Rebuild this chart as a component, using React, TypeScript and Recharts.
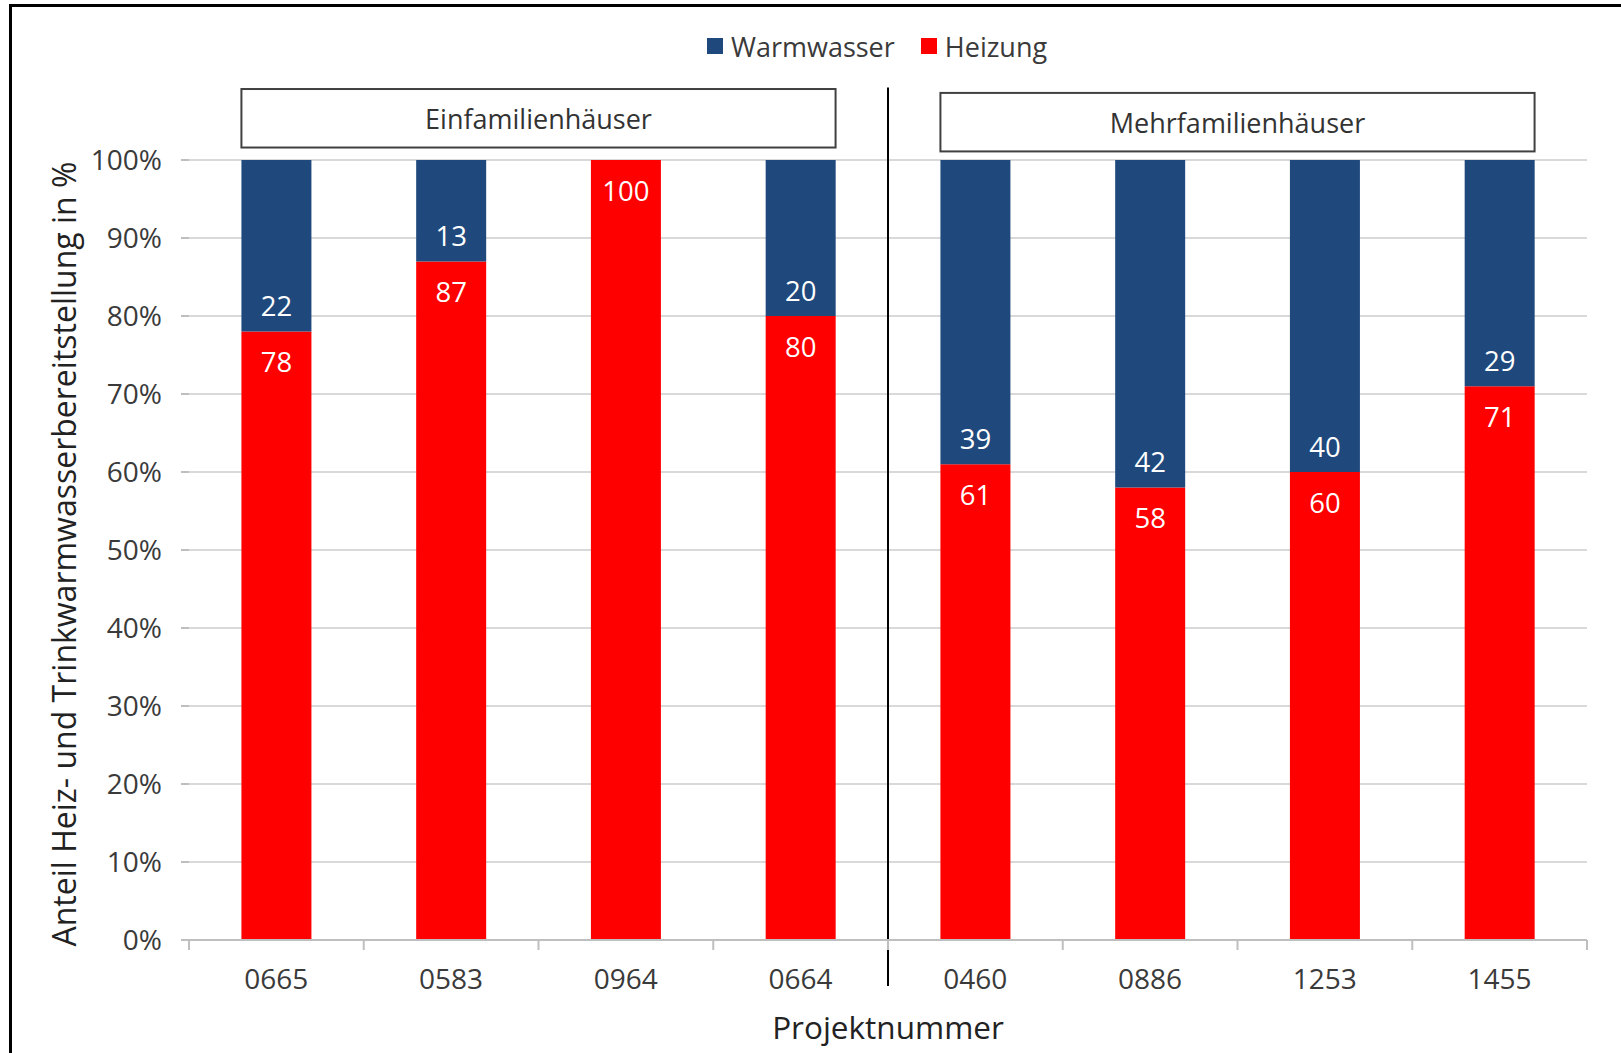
import React from 'react';
import {
  BarChart,
  Bar,
  XAxis,
  YAxis,
  CartesianGrid,
  ReferenceLine,
  ReferenceArea,
  LabelList,
} from 'recharts';

// Project numbers (x categories)
const projects = ['0665', '0583', '0964', '0664', '0460', '0886', '1253', '1455'];
// Share of heating in %
const heizung = [78, 87, 100, 80, 61, 58, 60, 71];
// Share of domestic hot water in %
const warmwasser = [22, 13, 0, 20, 39, 42, 40, 29];
// Y-axis ticks in %
const yTicks = [0, 10, 20, 30, 40, 50, 60, 70, 80, 90, 100];
// Building type groups: first and last project of each
const groupNames = ['Einfamilienhäuser', 'Mehrfamilienhäuser'];
const groupFirst = ['0665', '0460'];
const groupLast = ['0664', '1455'];
// Series names as shown in the legend (top segment first)
const seriesNames = ['Warmwasser', 'Heizung'];

const rows = projects.map((project, i) => ({
  project,
  heizung: heizung[i],
  warmwasser: warmwasser[i],
}));

const FONT = '"Open Sans", "DejaVu Sans", sans-serif';
const BLUE = '#1F497D';
const RED = '#FF0000';
const GRID = '#d9d9d9';
const AXIS = '#bfbfbf';
const TEXT = '#3a3a3a';

const CHART_W = 1621;
const CHART_H = 1053;
const MARGIN = { top: 160, right: 34, bottom: 0, left: 69 };
const Y_AXIS_W = 120;
const X_AXIS_H = 113;
const PLOT_W = CHART_W - MARGIN.left - MARGIN.right - Y_AXIS_W;

// bars take the middle 40 % of each band
const BAR_INSET = 0.3;
// vertical extent of the group header boxes, in axis units above 100 %
const BOX_Y = [
  [101.6, 109.1],
  [101.1, 108.6],
];

const ProjectTick = (props: any) => {
  const { x, y, payload, index, visibleTicksCount } = props;
  const count = visibleTicksCount || projects.length;
  const band = PLOT_W / count;
  const left = x - band / 2;
  const right = x + band / 2;
  return (
    <g>
      <line x1={left} y1={y} x2={left} y2={y + 10} stroke={AXIS} strokeWidth={2} />
      {index === count - 1 && (
        <line x1={right} y1={y} x2={right} y2={y + 10} stroke={AXIS} strokeWidth={2} />
      )}
      <text
        x={x}
        y={y + 38}
        textAnchor="middle"
        dominantBaseline="central"
        fontFamily={FONT}
        fontSize={28}
        fill={TEXT}
      >
        {payload.value}
      </text>
    </g>
  );
};

const HeizungLabel = (props: any) => {
  const { x, y, width, value } = props;
  if (!value) return null;
  return (
    <text
      x={x + width / 2}
      y={y + 30}
      textAnchor="middle"
      dominantBaseline="central"
      fontFamily={FONT}
      fontSize={27.5}
      fill="#ffffff"
    >
      {value}
    </text>
  );
};

const WarmwasserLabel = (props: any) => {
  const { x, y, width, height, value } = props;
  if (!value) return null;
  return (
    <text
      x={x + width / 2}
      y={y + height - 26}
      textAnchor="middle"
      dominantBaseline="central"
      fontFamily={FONT}
      fontSize={27.5}
      fill="#ffffff"
    >
      {value}
    </text>
  );
};

const YTitle = (props: any) => {
  const { viewBox } = props;
  const cx = viewBox.x - 6;
  const cy = viewBox.y + viewBox.height / 2 + 4;
  return (
    <text
      x={cx}
      y={cy}
      transform={`rotate(-90, ${cx}, ${cy})`}
      textAnchor="middle"
      dominantBaseline="central"
      fontFamily={FONT}
      fontSize={32}
      fill="#222"
    >
      Anteil Heiz- und Trinkwarmwasserbereitstellung in %
    </text>
  );
};

const XTitle = (props: any) => {
  const { viewBox } = props;
  const cx = viewBox.x + viewBox.width / 2;
  return (
    <text
      x={cx}
      y={viewBox.y + 86}
      textAnchor="middle"
      dominantBaseline="central"
      fontFamily={FONT}
      fontSize={31.5}
      fill="#222"
    >
      Projektnummer
    </text>
  );
};

// header box drawn over the bars of one group (inset to the bar edges)
const GroupBox = (name: string, bands: number) => (props: any) => {
  const { x, y, width, height } = props;
  const inset = (width / bands) * BAR_INSET;
  const bx = x + inset;
  const bw = width - 2 * inset;
  return (
    <g>
      <rect x={bx} y={y} width={bw} height={height} fill="#fff" stroke="#404040" strokeWidth={2} />
      <text
        x={bx + bw / 2}
        y={y + height / 2}
        textAnchor="middle"
        dominantBaseline="central"
        fontFamily={FONT}
        fontSize={27}
        fill="#333"
      >
        {name}
      </text>
    </g>
  );
};

const Legend = () => {
  const colors = [BLUE, RED];
  return (
    <div
      style={{
        position: 'absolute',
        left: 707,
        top: 28,
        height: 36,
        display: 'flex',
        alignItems: 'center',
        fontFamily: FONT,
        fontSize: 27,
        color: TEXT,
        whiteSpace: 'nowrap',
      }}
    >
      {seriesNames.map((name, i) => (
        <div key={name} style={{ display: 'flex', alignItems: 'center', marginRight: 26 }}>
          <span
            style={{
              display: 'inline-block',
              width: 16,
              height: 16,
              background: colors[i],
              marginRight: 8,
            }}
          />
          <span>{name}</span>
        </div>
      ))}
    </div>
  );
};

export default function App() {
  return (
    <div
      style={{
        position: 'absolute',
        left: 0,
        top: 0,
        width: CHART_W,
        height: CHART_H,
        background: '#fff',
        overflow: 'hidden',
      }}
    >
      {/* outer frame */}
      <div
        style={{
          position: 'absolute',
          left: 9,
          top: 4,
          width: 1640,
          height: 1080,
          border: '3px solid #000',
          boxSizing: 'border-box',
        }}
      />
      <div style={{ position: 'absolute', left: 0, top: 0 }}>
        <BarChart
          width={CHART_W}
          height={CHART_H}
          data={rows}
          margin={MARGIN}
          barCategoryGap="30%"
        >
          <CartesianGrid vertical={false} stroke={GRID} strokeWidth={2} />
          <XAxis
            dataKey="project"
            height={X_AXIS_H}
            interval={0}
            axisLine={{ stroke: AXIS, strokeWidth: 2 }}
            tickLine={false}
            tickSize={0}
            tickMargin={0}
            tick={<ProjectTick />}
            label={<XTitle />}
          />
          <YAxis
            width={Y_AXIS_W}
            domain={[0, 100]}
            ticks={yTicks}
            allowDataOverflow
            tickFormatter={(v: number) => `${v}%`}
            axisLine={false}
            tickLine={{ stroke: AXIS, strokeWidth: 2 }}
            tickSize={8}
            tickMargin={19}
            tick={{ fontFamily: FONT, fontSize: 28, fill: TEXT }}
            label={<YTitle />}
          />
          <Bar dataKey="heizung" name="Heizung" stackId="a" fill={RED} isAnimationActive={false}>
            <LabelList dataKey="heizung" content={<HeizungLabel />} />
          </Bar>
          <Bar dataKey="warmwasser" name="Warmwasser" stackId="a" fill={BLUE} isAnimationActive={false}>
            <LabelList dataKey="warmwasser" content={<WarmwasserLabel />} />
          </Bar>
          {/* separator between single- and multi-family houses */}
          <ReferenceLine
            segment={[
              { x: groupLast[0], y: -5.9 },
              { x: groupLast[0], y: 109.3 },
            ]}
            position="end"
            stroke="#000"
            strokeWidth={2}
            ifOverflow="visible"
          />
          {groupNames.map((name, g) => (
            <ReferenceArea
              key={name}
              x1={groupFirst[g]}
              x2={groupLast[g]}
              y1={BOX_Y[g][0]}
              y2={BOX_Y[g][1]}
              ifOverflow="visible"
              shape={GroupBox(
                name,
                projects.indexOf(groupLast[g]) - projects.indexOf(groupFirst[g]) + 1,
              )}
            />
          ))}
        </BarChart>
      </div>
      <Legend />
    </div>
  );
}
